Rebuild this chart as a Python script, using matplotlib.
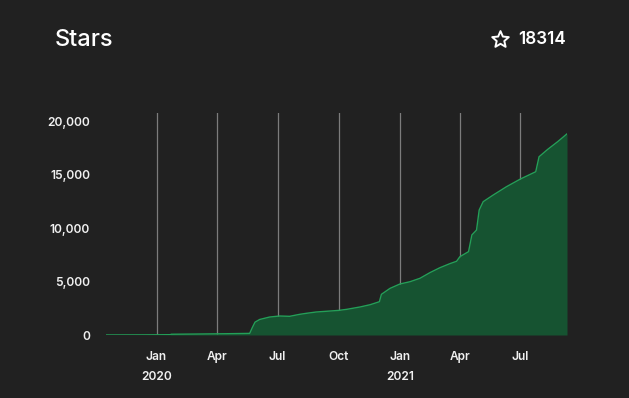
import matplotlib
matplotlib.use("Agg")
import matplotlib.pyplot as plt
from matplotlib.patches import Polygon
import numpy as np
import pandas as pd

# ---- data ----
dates = ["2019-10-17", "2019-12-15", "2020-01-22", "2020-01-23", "2020-03-01", "2020-04-15",
         "2020-05-20", "2020-05-24", "2020-05-28", "2020-06-04", "2020-06-19", "2020-07-04",
         "2020-07-19", "2020-08-03", "2020-08-13", "2020-08-28", "2020-10-01", "2020-10-13",
         "2020-11-02", "2020-11-17", "2020-12-01", "2020-12-04", "2020-12-17", "2021-01-01",
         "2021-01-16", "2021-01-31", "2021-02-15", "2021-03-02", "2021-03-17", "2021-03-27",
         "2021-04-01", "2021-04-14", "2021-04-19", "2021-04-26", "2021-04-30", "2021-05-06",
         "2021-05-21", "2021-06-10", "2021-07-01", "2021-07-24", "2021-07-29", "2021-08-11",
         "2021-08-26", "2021-09-09"]
stars = [0, 10, 30, 70, 90, 120,
         150, 700, 1200, 1450, 1680, 1776,
         1745, 1930, 2025, 2150, 2300, 2400,
         2620, 2830, 3110, 3800, 4360, 4770,
         4980, 5300, 5830, 6290, 6670, 6890,
         7320, 7790, 9350, 9810, 11680, 12460,
         13080, 13860, 14580, 15260, 16660, 17350,
         18070, 18800]
tick_dates = ["2020-01-01", "2020-04-01", "2020-07-01", "2020-10-01",
              "2021-01-01", "2021-04-01", "2021-07-01"]
tick_labels = ["Jan\n2020", "Apr", "Jul", "Oct", "Jan\n2021", "Apr", "Jul"]
y_ticks = [0, 5000, 10000, 15000, 20000]
title = "Stars"
total = "18314"

BG = "#212121"
FILL = "#165331"
LINE = "#23a058"
GRID = "#7c7c7c"
TXT = "#f0f0f0"

plt.rcParams['font.family'] = ['Inter', 'DejaVu Sans']

W, H = 629, 398
x = pd.to_datetime(dates)
fig = plt.figure(figsize=(W/100, H/100), dpi=100, facecolor=BG)
ax = fig.add_axes([106/W, 1-335/H, (567-106)/W, (335-113)/H])
ax.set_facecolor(BG)

ax.fill_between(x, 0, stars, color=FILL, linewidth=0, zorder=2)
ax.plot(x, stars, color=LINE, linewidth=1.0, zorder=3)

ax.set_xlim(x[0], x[-1])
ax.set_ylim(0, 20750)

ax.set_xticks(pd.to_datetime(tick_dates))
ax.set_xticklabels(tick_labels, color=TXT, fontsize=8.6, fontweight='semibold', linespacing=1.9)
ax.set_yticks(y_ticks)
ax.set_yticklabels([f"{v:,}" for v in y_ticks], color=TXT, fontsize=8.6, fontweight='semibold')
ax.tick_params(axis='both', length=0)
ax.tick_params(axis='x', pad=11.5)
ax.tick_params(axis='y', pad=11.5)

ax.grid(axis='x', color=GRID, linewidth=0.9, zorder=4)
ax.grid(axis='y', visible=False)
for s in ax.spines.values():
    s.set_visible(False)

fig.text(55/W, 1-40/H, title, color="white", fontsize=17, fontweight='medium',
         ha='left', va='center')

# star icon (outline)
cx, cy, R, r = 500.5, 39.8, 8.7, 4.0
pts = []
for i in range(10):
    ang = np.pi/2 + i*np.pi/5
    rad = R if i % 2 == 0 else r
    pts.append(((cx + rad*np.cos(ang))/W, 1 - (cy - rad*np.sin(ang))/H))
fig.patches.append(Polygon(pts, closed=True, fill=False, edgecolor="white", linewidth=1.4,
                           joinstyle='round', transform=fig.transFigure, figure=fig))

fig.text(518/W, 1-40/H, total, color="white", fontsize=12.3, fontweight='semibold',
         ha='left', va='center')

fig.savefig("out.png", dpi=100, facecolor=BG)
